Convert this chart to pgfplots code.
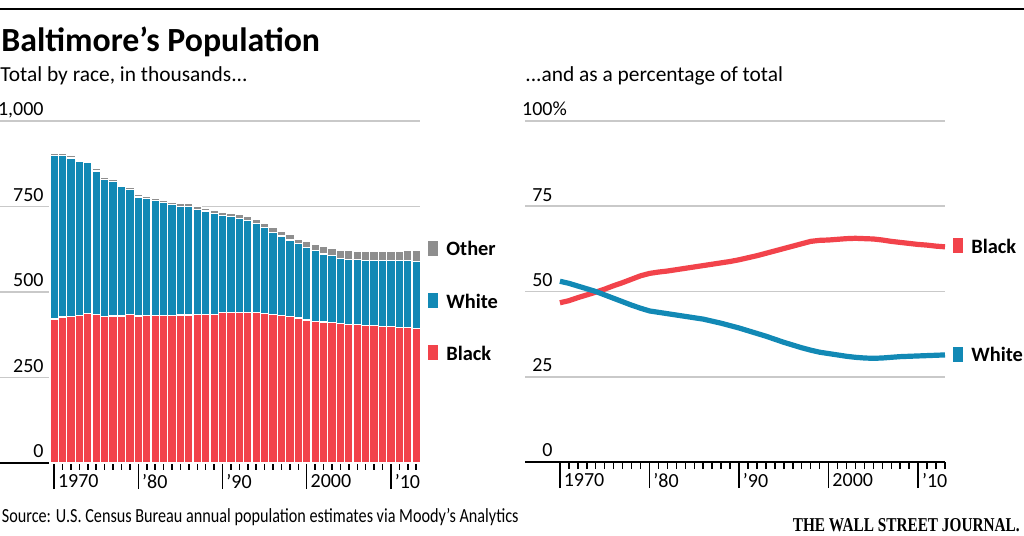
\documentclass[border=0pt]{standalone}
\usepackage{fontspec}
\setmainfont{Carlito}
\newfontfamily\wsjfont{Liberation Serif}
\usepackage{pgfplots}
\pgfplotsset{compat=1.18}
\usepackage{pgfplotstable}

\definecolor{wsjred}{HTML}{F2434B}
\definecolor{wsjblue}{HTML}{1289B5}
\definecolor{wsjgray}{HTML}{8E8E8E}
\definecolor{gridgray}{HTML}{C9C9C9}

% population by race, thousands
\pgfplotstableread{
year black white other
1970 421 477 6
1971 427 473 6
1972 429 463 6
1973 432 451 6
1974 438 442 6
1975 434 420 6
1976 428 402 6
1977 430 392 6
1978 430 380 6
1979 435 364 6
1980 430 348 7
1981 431 342 7
1982 431 336 7
1983 431 330 7
1984 431 325 7
1985 433 318 7
1986 433 317 8
1987 434 308 8
1988 434 303 8
1989 435 295 9
1990 439 285 9
1991 441 280 10
1992 441 275 11
1993 441 268 12
1994 439 261 13
1995 437 251 13
1996 434 241 13
1997 431 233 12
1998 428 224 15
1999 424 218 12
2000 418 212 18
2001 414 207 19
2002 412 199 22
2003 410 196 21
2004 408 191 24
2005 406 190 25
2006 404 190 26
2007 402 190 27
2008 401 190 28
2009 400 191 28
2010 398 193 28
2011 397 194 29
2012 396 195 31
2013 394 196 33
}\pop

% share of total, percent
\pgfplotstableread{
year black white
1970 46.7 53.0
1971 47.3 52.4
1972 48.2 51.6
1973 49.0 50.8
1974 49.8 50.0
1975 50.7 49.0
1976 51.7 48.0
1977 52.6 47.0
1978 53.6 46.0
1979 54.6 45.1
1980 55.3 44.3
1981 55.7 43.9
1982 56.0 43.5
1983 56.4 43.1
1984 56.8 42.7
1985 57.2 42.3
1986 57.6 41.9
1987 58.0 41.3
1988 58.4 40.7
1989 58.8 40.0
1990 59.3 39.3
1991 59.9 38.5
1992 60.5 37.7
1993 61.2 36.9
1994 61.9 36.0
1995 62.6 35.1
1996 63.3 34.3
1997 64.0 33.5
1998 64.7 32.8
1999 65.0 32.2
2000 65.1 31.8
2001 65.3 31.4
2002 65.5 31.0
2003 65.6 30.7
2004 65.5 30.5
2005 65.4 30.4
2006 65.1 30.5
2007 64.7 30.7
2008 64.4 30.9
2009 64.1 31.0
2010 63.8 31.1
2011 63.6 31.2
2012 63.3 31.3
2013 63.1 31.4
}\pct

\pgfplotsset{
  wsj/.style={
    scale only axis, width=210pt,
    axis x line*=bottom, axis y line*=left,
    x axis line style={line width=1pt, -},
    y axis line style={draw=none},
    ytick style={draw=none},
    ymajorgrids,
    major grid style={gridgray, line width=0.8pt},
    tick align=outside,
    major tick length=3.5pt,
    xtick={1970,1971,...,2013},
    xticklabels={},
    xtick style={black, line width=0.75pt},
    extra x ticks={1970,1980,1990,2000,2010},
    extra x tick labels={1970,'80,'90,2000,'10},
    extra x tick style={major tick length=13pt,
      xtick style={black, line width=0.75pt},
      xticklabel style={anchor=north west, inner sep=0pt, xshift=1.75pt,
        yshift=7.5pt, font=\fontsize{10}{12}\selectfont}},
    yticklabel style={anchor=base east, inner sep=0pt, yshift=2.5pt,
      font=\fontsize{10}{12}\selectfont},
    clip=false,
  },
}

\begin{document}
\begin{tikzpicture}
\path[use as bounding box] (0,0) rectangle (512pt,268pt);
\draw[line width=0.8pt] (0,263.5pt) -- (512pt,263.5pt);

\node[anchor=base west, inner sep=0pt, font=\fontsize{16.9}{18}\selectfont\bfseries]
  at (0.5pt,242.3pt) {Baltimore’s Population};
\node[anchor=base west, inner sep=0pt, font=\fontsize{10.7}{12}\selectfont]
  at (0pt,227.2pt) {Total by race, in thousands...};
\node[anchor=base west, inner sep=0pt, font=\fontsize{10.7}{12}\selectfont]
  at (262.5pt,227pt) {...and as a percentage of total};

\begin{axis}[wsj,
    at={(0pt,36.5pt)}, anchor=south west, height=171pt,
    xmin=1963.57, xmax=2013.45, ymin=0, ymax=1000,
    ytick={0,250,500,750,1000},
    yticklabels={0,250,500,750,{1,000}},
    yticklabel style={xshift=25.5pt},
    ybar stacked, bar width=4.215pt,
  ]
  \addplot[fill=wsjred, draw=white, line width=0.6pt] table[x=year, y=black] {\pop};
  \addplot[fill=wsjblue, draw=white, line width=0.6pt] table[x=year, y=white] {\pop};
  \addplot[fill=wsjgray, draw=white, line width=0.6pt] table[x=year, y=other] {\pop};
\end{axis}

\begin{axis}[wsj,
    at={(262.5pt,37pt)}, anchor=south west, height=170.5pt,
    xmin=1966.1, xmax=2013, ymin=0, ymax=100,
    ytick={0,25,50,75,100},
    yticklabels={0,25,50,75,100\rlap{\%}},
    yticklabel style={xshift=17.5pt},
  ]
  \addplot[wsjred, line width=2.6pt, line join=round] table[x=year, y=black] {\pct};
  \addplot[wsjblue, line width=2.6pt, line join=round] table[x=year, y=white] {\pct};
\end{axis}

% legend keys
\fill[wsjgray] (214pt,140pt) rectangle (219pt,147.5pt);
\fill[wsjblue] (214pt,113.8pt) rectangle (219pt,121.3pt);
\fill[wsjred]  (214pt,87.8pt) rectangle (219pt,95.3pt);
\fill[wsjred]  (476.5pt,141.3pt) rectangle (481.5pt,148.8pt);
\fill[wsjblue] (476.5pt,87pt) rectangle (481.5pt,94.5pt);
\begin{scope}[every node/.style={anchor=west, inner sep=0pt,
    font=\fontsize{10.2}{12}\selectfont\bfseries}]
  \node at (223pt,143.7pt) {Other};
  \node at (223pt,117.5pt) {White};
  \node at (223pt,91.5pt) {Black};
  \node at (485.5pt,145pt) {Black};
  \node at (485.5pt,90.8pt) {White};
\end{scope}

\node[anchor=base west, inner sep=0pt, xscale=0.81, font=\fontsize{10}{12}\selectfont]
  at (0.8pt,6.7pt) {Source: U.S. Census Bureau annual population estimates via Moody’s Analytics};
\node[anchor=base east, inner sep=0pt, xscale=0.78, font=\wsjfont\fontsize{9.8}{12}\selectfont\bfseries]
  at (510pt,2pt) {THE WALL STREET JOURNAL.};
\end{tikzpicture}
\end{document}
